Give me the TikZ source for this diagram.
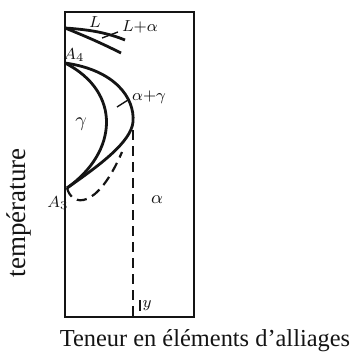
\documentclass[tikz,border=0pt]{standalone}
\usepackage{fontspec}
\setmainfont{Liberation Serif}
\usepackage{tikz}
\usetikzlibrary{positioning}
\definecolor{inkdark}{RGB}{20,20,20}
\tikzset{
  frame/.style={line width=0.9pt, color=inkdark},
  phase/.style={line width=1.4pt, color=inkdark},
  phasedash/.style={line width=1.1pt, color=inkdark, dash pattern=on 5pt off 3pt},
  tickmark/.style={line width=0.7pt, color=inkdark},
  lab/.style={font=\fontsize{8}{9}\selectfont\itshape, color=inkdark, inner sep=0pt},
  axtext/.style={font=\fontsize{12.2}{14}\selectfont, color=inkdark, inner sep=0pt}
}
\begin{document}
\begin{tikzpicture}[x=0.5pt, y=-0.5pt]
  \useasboundingbox (0,0) rectangle (351,353);
  % key points
  \coordinate (top) at (65,28);
  \coordinate (A4) at (65,63);
  \coordinate (A3) at (67,188);
  \coordinate (nose) at (133,122);
  \coordinate (ysol) at (133,130);
  \coordinate (ybase) at (133,317);
  % frame
  \draw[frame] (65,12) rectangle (194,317);
  % liquid region
  \draw[phase] (top) .. controls (95,30) and (110,34) .. (125,40);
  \draw[phase] (top) .. controls (90,38) and (105,45) .. (121,53);
  \draw[tickmark] (102,38) -- (118,32);
  % gamma loop
  \draw[phase] (A4) .. controls (122,92) and (118,152) .. (A3);
  \draw[phase] (A4) .. controls (115,70) and (135,98) .. (nose)
    .. controls (131,142) and (100,165) .. (A3);
  \draw[tickmark] (117,107) -- (128,100);
  % dashed limits
  \draw[phasedash] (A3) .. controls (72,207) and (97,210) .. (122,152);
  \draw[phasedash] (ysol) -- (ybase);
  \draw[tickmark] (140,300) -- (140,311);
  % labels
  \node[lab] (lL) at (95,22) {$L$};
  \node[lab] (lLa) at (140,27) {$L{+}\alpha$};
  \node[lab] (lA4) at (74,55) {$A_4$};
  \node[lab, font=\fontsize{10}{11}\selectfont] (lg) at (81,124) {$\gamma$};
  \node[lab] (lag) at (149,97) {$\alpha{+}\gamma$};
  \node[lab] (lA3) at (58,203) {$A_3$};
  \node[lab, font=\fontsize{9}{10}\selectfont] (la) at (157,200) {$\alpha$};
  \node[lab] (ly) at (147,306) {$y$};
  \node[axtext, rotate=90, font=\fontsize{13.5}{15}\selectfont] (temp) at (19,213) {température};
  \node[axtext] (ten) at (205,341) {Teneur en éléments d’alliages};
\end{tikzpicture}
\end{document}
